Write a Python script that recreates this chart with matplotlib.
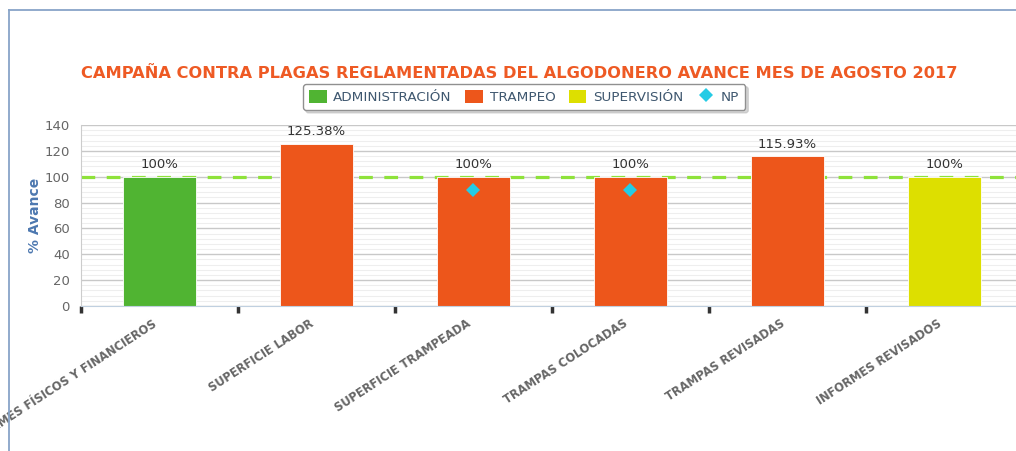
import matplotlib
matplotlib.use("Agg")
import matplotlib.pyplot as plt
from matplotlib.lines import Line2D
from matplotlib.patches import Patch
from matplotlib.ticker import MultipleLocator

# Data
categories = ["INFORMES FÍSICOS Y FINANCIEROS", "SUPERFICIE LABOR",
              "SUPERFICIE TRAMPEADA", "TRAMPAS COLOCADAS",
              "TRAMPAS REVISADAS", "INFORMES REVISADOS"]
values = [100, 125.38, 100, 100, 115.93, 100]
labels = ["100%", "125.38%", "100%", "100%", "115.93%", "100%"]
groups = ["ADMINISTRACIÓN", "TRAMPEO", "TRAMPEO", "TRAMPEO", "TRAMPEO", "SUPERVISIÓN"]
np_categories = ["SUPERFICIE TRAMPEADA", "TRAMPAS COLOCADAS"]
np_values = [90, 90]
goal = 100

group_colors = {"ADMINISTRACIÓN": "#50B432", "TRAMPEO": "#ED561B", "SUPERVISIÓN": "#DDDF00"}
np_color = "#24CBE5"
title_color = "#EE5A24"


def plot_avance():
    fig = plt.figure(figsize=(10.16, 4.51), dpi=100)
    ax = fig.add_axes([0.0797, 0.3215, 0.927, 0.4013])

    x = list(range(len(categories)))
    colors = [group_colors[g] for g in groups]

    # Gridlines
    ax.set_ylim(0, 140)
    ax.set_xlim(-0.5, len(categories) - 0.5)
    ax.yaxis.set_major_locator(MultipleLocator(20))
    ax.yaxis.set_minor_locator(MultipleLocator(4))
    ax.grid(axis="y", which="major", color="#c8c8c8", linewidth=1.0, zorder=0)
    ax.grid(axis="y", which="minor", color="#eeeeee", linewidth=0.8, zorder=0)
    ax.set_axisbelow(True)

    # Goal line at 100%
    ax.axhline(goal, color="#8ee23a", linewidth=2.3, dashes=(4.3, 3.6), zorder=1)

    bars = ax.bar(x, values, width=0.465, color=colors, edgecolor="white",
                  linewidth=0.6, zorder=2)
    for rect, lab in zip(bars, labels):
        ax.annotate(lab, (rect.get_x() + rect.get_width() / 2, rect.get_height()),
                    xytext=(0, 4), textcoords="offset points", ha="center",
                    va="bottom", fontsize=9.5, color="#333333")

    np_x = [categories.index(c) for c in np_categories]
    ax.plot(np_x, np_values, linestyle="none", marker="D", markersize=7.5,
            color=np_color, markeredgewidth=0, zorder=3)

    # Axes styling
    for side in ["top", "right"]:
        ax.spines[side].set_visible(False)
    ax.spines["left"].set_color("#cccccc")
    ax.spines["bottom"].set_color("#c0d0e0")
    ax.tick_params(axis="y", which="both", length=0, labelsize=9.5,
                   labelcolor="#666666", pad=8)

    ax.set_xticks(x)
    ax.set_xticklabels(categories, rotation=33, ha="right", fontsize=8.3,
                       fontweight="bold", color="#666666")
    ax.set_xticks([i - 0.5 for i in x], minor=True)
    ax.tick_params(axis="x", which="major", length=0, pad=8)
    ax.tick_params(axis="x", which="minor", length=5, width=2.5, color="#333333")

    ax.set_ylabel("% Avance", color="#4d78b0", fontsize=10, fontweight="bold",
                  labelpad=2)

    # Title and legend
    fig.text(0.511, 0.838, "CAMPAÑA CONTRA PLAGAS REGLAMENTADAS DEL ALGODONERO AVANCE MES DE AGOSTO 2017",
             ha="center", va="center", fontsize=11.7, fontweight="bold", color=title_color)

    handles = [Patch(facecolor=group_colors[g], edgecolor="none") for g in group_colors]
    handles.append(Line2D([], [], linestyle="none", marker="D", markersize=7.5,
                          color=np_color, markeredgewidth=0))
    names = list(group_colors) + ["NP"]
    leg = fig.legend(handles, names, loc="center", bbox_to_anchor=(0.516, 0.785),
                     ncol=4, fontsize=9.7, frameon=True, fancybox=True,
                     shadow={"color": "#bbbbbb", "alpha": 0.6},
                     handlelength=1.3, handleheight=1.1, handletextpad=0.5,
                     columnspacing=1.0, borderpad=0.45)
    leg.get_frame().set_edgecolor("#909090")
    for t in leg.get_texts():
        t.set_color("#3E576F")

    # Chart frame
    fig.add_artist(Line2D([0.009, 0.009], [0, 0.978], color="#88a4c8", linewidth=1.3))
    fig.add_artist(Line2D([0.009, 1.0], [0.978, 0.978], color="#88a4c8", linewidth=1.3))

    fig.savefig("out.png", dpi=100)


if __name__ == "__main__":
    plot_avance()
